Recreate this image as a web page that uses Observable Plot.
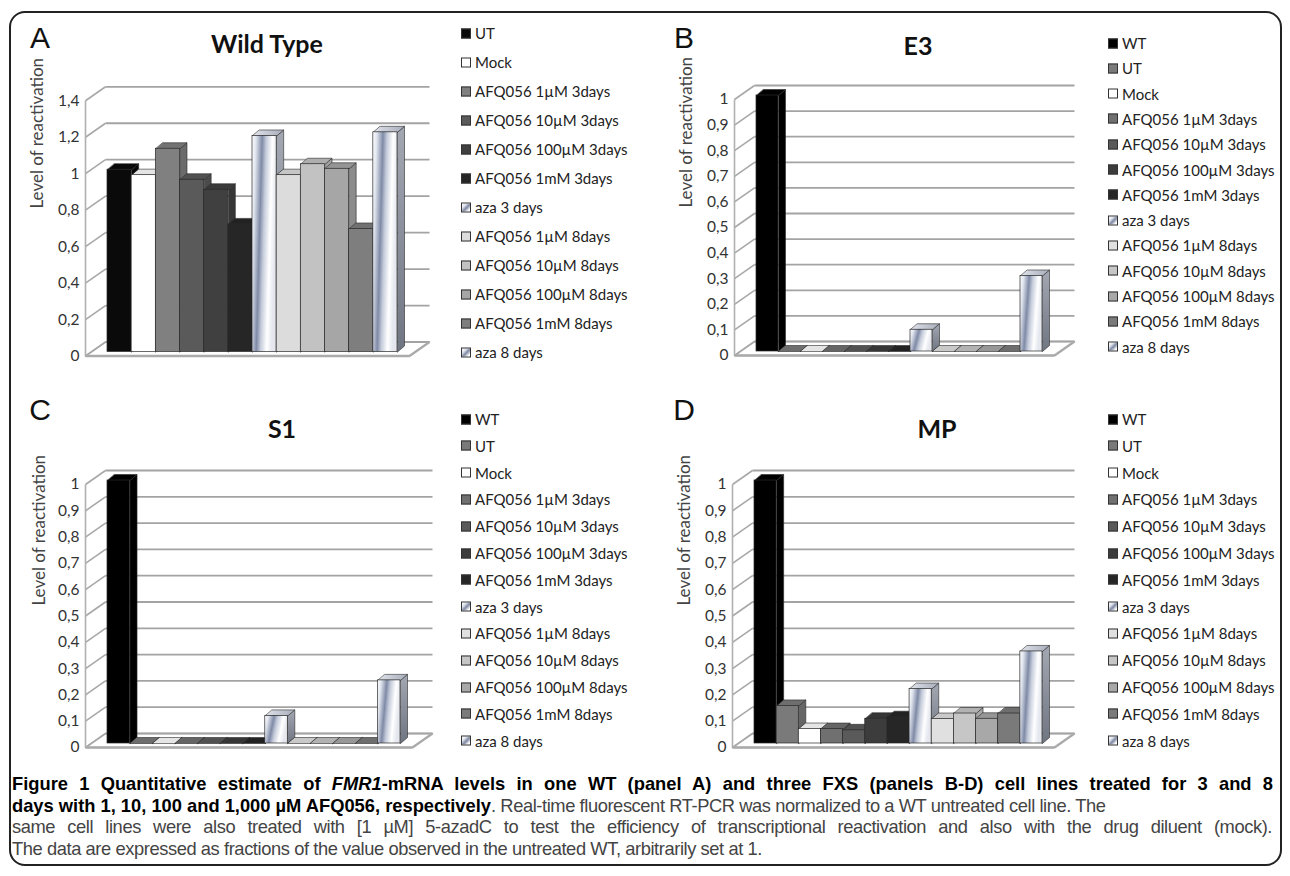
<!DOCTYPE html>
<html><head><meta charset="utf-8">
<script src="https://cdn.jsdelivr.net/npm/d3@7"></script>
<script src="https://cdn.jsdelivr.net/npm/@observablehq/plot@0.6"></script>
<style>
html,body{margin:0;padding:0;background:#fff;}
body{width:1290px;height:876px;position:relative;overflow:hidden;font-family:Lato,"Open Sans",sans-serif;}
#frame{position:absolute;left:9px;top:11px;width:1273px;height:855px;border:2px solid #222;border-radius:16px;box-sizing:border-box;}
.abs{position:absolute;}
.letter{font-family:"Liberation Sans",Arial,sans-serif;font-size:30px;color:#111;line-height:1;transform:translate(-50%,-50%);}
.title{font-family:Lato,sans-serif;font-weight:bold;font-size:25px;color:#111;line-height:1;transform:translate(-50%,-50%);white-space:nowrap;}
.leg{font-family:Lato,sans-serif;font-size:15px;color:#222;white-space:nowrap;transform:translateY(-50%);display:flex;align-items:center;line-height:1;}
.sw{width:10px;height:10px;border:1px solid #333;margin-right:4px;box-sizing:border-box;flex:none;}
.cap{position:absolute;left:12px;white-space:nowrap;font-size:19px;line-height:1;transform-origin:0 50%;font-family:"Liberation Sans",Arial,sans-serif;color:#444;}
.cap b{color:#000;}
.plot{position:absolute;}
</style>
</head>
<body>
<svg width="0" height="0" style="position:absolute">
<defs>
<linearGradient id="azaFront" x1="0" y1="0" x2="1" y2="0.25">
<stop offset="0" stop-color="#ffffff"/>
<stop offset="0.16" stop-color="#e0e5ee"/>
<stop offset="0.4" stop-color="#7f8aa6"/>
<stop offset="0.56" stop-color="#c4cbda"/>
<stop offset="0.8" stop-color="#ffffff"/>
<stop offset="1" stop-color="#e4e7ee"/>
</linearGradient>
<linearGradient id="azaSide" x1="0" y1="0" x2="0" y2="1">
<stop offset="0" stop-color="#a3a8b3"/>
<stop offset="1" stop-color="#6f7581"/>
</linearGradient>
<linearGradient id="azaTop" x1="0" y1="0" x2="1" y2="0">
<stop offset="0" stop-color="#dfe2ea"/>
<stop offset="1" stop-color="#a7adbb"/>
</linearGradient>
</defs>
</svg>
<div id="frame"></div>
<div id="root"></div>
<script>
// ---------- data ----------
const categoriesWildType = ["UT","Mock","AFQ056 1µM 3days","AFQ056 10µM 3days","AFQ056 100µM 3days","AFQ056 1mM 3days","aza 3 days","AFQ056 1µM 8days","AFQ056 10µM 8days","AFQ056 100µM 8days","AFQ056 1mM 8days","aza 8 days"];
const categoriesFXS = ["WT","UT","Mock","AFQ056 1µM 3days","AFQ056 10µM 3days","AFQ056 100µM 3days","AFQ056 1mM 3days","aza 3 days","AFQ056 1µM 8days","AFQ056 10µM 8days","AFQ056 100µM 8days","AFQ056 1mM 8days","aza 8 days"];
const valuesWildType = [1.00, 0.97, 1.115, 0.945, 0.89, 0.70, 1.185, 0.97, 1.03, 1.005, 0.675, 1.205];
const valuesE3 = [1.00, 0, 0, 0, 0, 0, 0, 0.085, 0, 0, 0, 0, 0.295];
const valuesS1 = [1.00, 0, 0, 0, 0, 0, 0, 0.105, 0, 0, 0, 0, 0.24];
const valuesMP = [1.00, 0.143, 0.055, 0.055, 0.05, 0.094, 0.10, 0.207, 0.093, 0.114, 0.094, 0.114, 0.35];
const ticksWildType = [0, 0.2, 0.4, 0.6, 0.8, 1, 1.2, 1.4];
const ticksFXS = [0, 0.1, 0.2, 0.3, 0.4, 0.5, 0.6, 0.7, 0.8, 0.9, 1];
const yLabel = "Level of reactivation";

// ---------- styles ----------
const paletteWildType = ["#0a0a0a","#ffffff","#808080","#5a5a5a","#404040","#262626","aza","#dcdcdc","#c2c2c2","#a6a6a6","#7e7e7e","aza"];
const paletteFXS = ["#000000","#7a7a7a","#ffffff","#707070","#5a5a5a","#3c3c3c","#262626","aza","#e0e0e0","#c6c6c6","#a8a8a8","#7a7a7a","aza"];

const panels = [
  {letter:"A", title:"Wild Type", cats:categoriesWildType, values:valuesWildType, palette:paletteWildType, ticks:ticksWildType, ymax:1.4,
   letterPos:[40,38], titlePos:[267,43], svg:[0,60,450,330], bars:[107,397], base:351.5, unit:182.3, ylabelPos:[37,208], legend:[461,33,29]},
  {letter:"B", title:"E3", cats:categoriesFXS, values:valuesE3, palette:paletteFXS, ticks:ticksFXS, ymax:1,
   letterPos:[684,38], titlePos:[918,45], svg:[645,60,450,330], bars:[756,1042], base:351, unit:256, ylabelPos:[686,207], legend:[1108,43,25.3]},
  {letter:"C", title:"S1", cats:categoriesFXS, values:valuesS1, palette:paletteFXS, ticks:ticksFXS, ymax:1,
   letterPos:[40,410], titlePos:[282,428], svg:[0,440,450,330], bars:[107,400], base:743, unit:263, ylabelPos:[39,605], legend:[461,419,26.8]},
  {letter:"D", title:"MP", cats:categoriesFXS, values:valuesMP, palette:paletteFXS, ticks:ticksFXS, ymax:1,
   letterPos:[684,410], titlePos:[937,428], svg:[645,440,450,330], bars:[754,1042], base:743, unit:263, ylabelPos:[684,605], legend:[1108,419,26.8]}
];

const root = document.getElementById("root");
const fmt = d => String(d).replace(".", ",");
const frontFill = c => c === "aza" ? "url(#azaFront)" : c;
const sideFill = c => c === "aza" ? "url(#azaSide)" : d3.color(c).darker(0.5).formatHex();
const topFill = c => c === "aza" ? "url(#azaTop)" : d3.color(c).darker(0.3).formatHex();
const swatchBg = c => c === "aza" ? "linear-gradient(135deg,#ffffff 0%,#dfe3ec 30%,#7e88a2 55%,#ffffff 85%)" : c;

function addDiv(cls, x, y, html) {
  const d = document.createElement("div");
  d.className = "abs " + cls;
  d.style.left = x + "px"; d.style.top = y + "px";
  d.innerHTML = html;
  root.appendChild(d);
  return d;
}

for (const p of panels) {
  const [sl, st, sw, sh] = p.svg;
  const n = p.cats.length;
  const slot = (p.bars[1] - p.bars[0]) / n;
  const px2x = 1 / slot, px2y = 1 / p.unit;
  const marginLeft = p.bars[0] - sl, marginRight = sw - (p.bars[1] - sl);
  const marginBottom = sh - (p.base - st), marginTop = p.base - p.unit * p.ymax - st;
  // 3D geometry offsets converted to data units
  const FL = -22 * px2x, FR = n + 12 * px2x;
  const BDX = 20 * px2x;
  const FY = -4 * px2y, BY = 10 * px2y;
  const DX = 7 * px2x, DY = 6 * px2y;

  const bars = p.values.map((v, i) => ({i, cat: p.cats[i], v, c: p.palette[i]}));
  const tops = bars.flatMap(b => [[b.i, b.v], [b.i + 1, b.v], [b.i + 1 + DX, b.v + DY], [b.i + DX, b.v + DY]]
    .map(([x, y]) => ({x, y, i: b.i, fill: topFill(b.c)})));
  const sides = bars.flatMap(b => [[b.i + 1, 0], [b.i + 1 + DX, DY], [b.i + 1 + DX, b.v + DY], [b.i + 1, b.v]]
    .map(([x, y]) => ({x, y, i: b.i, fill: sideFill(b.c)})));
  const floor = [[FL, FY], [FR, FY], [FR + BDX, BY], [FL + BDX, BY]].map(([x, y]) => ({x, y}));

  const frameCenter = st + (marginTop + sh - marginBottom) / 2;

  const chart = Plot.plot({
    width: sw, height: sh,
    marginLeft, marginRight, marginTop, marginBottom,
    x: {domain: [0, n], axis: null},
    y: {domain: [0, p.ymax]},
    color: {type: "identity"},
    style: {overflow: "visible", background: "transparent"},
    marks: [
      Plot.line(floor, {x: "x", y: "y", fill: "#ffffff", stroke: "#b4b4b4", strokeWidth: 1.5, curve: "linear-closed"}),
      Plot.link(p.ticks, {x1: () => FL + BDX, x2: () => FR + BDX, y1: t => t + BY, y2: t => t + BY, stroke: "#a3a3a3", strokeWidth: 1.8}),
      Plot.link(p.ticks, {x1: () => FL, y1: t => t + FY, x2: () => FL + BDX, y2: t => t + BY, stroke: "#a8a8a8", strokeWidth: 1.6}),
      Plot.link([p.ymax], {x1: () => FL, x2: () => FL, y1: () => FY, y2: t => t + FY, stroke: "#b0b0b0", strokeWidth: 1.6}),
      Plot.link([0], {x1: () => FL, x2: () => FR, y1: () => FY, y2: () => FY, stroke: "#aaaaaa", strokeWidth: 2.6}),
      Plot.link([0], {x1: () => FR, x2: () => FR + BDX, y1: () => FY, y2: () => BY, stroke: "#aaaaaa", strokeWidth: 2.2}),
      Plot.line(sides, {x: "x", y: "y", z: "i", fill: "fill", stroke: "#2a2a2a", strokeWidth: 0.6, curve: "linear-closed"}),
      Plot.line(tops, {x: "x", y: "y", z: "i", fill: "fill", stroke: "#2a2a2a", strokeWidth: 0.6, curve: "linear-closed"}),
      Plot.rect(bars, {x1: "i", x2: d => d.i + 1, y1: () => 0, y2: "v", fill: d => frontFill(d.c), stroke: "#2a2a2a", strokeWidth: 0.7, title: d => `${d.cat}: ${fmt(d.v)}`}),
      Plot.axisY(p.ticks, {tickSize: 0, tickPadding: 28, dy: 4, tickFormat: fmt, fontSize: 15.5, fill: "#333", label: null, fontFamily: "Lato, sans-serif"}),
      Plot.text([yLabel], {frameAnchor: "left", text: d => d, rotate: -90, dx: p.ylabelPos[0] - p.bars[0], dy: p.ylabelPos[1] - frameCenter, fontSize: 17, fill: "#444", fontFamily: "Lato, sans-serif"})
    ]
  });
  chart.classList.add("plot");
  chart.style.left = sl + "px"; chart.style.top = st + "px";
  root.appendChild(chart);

  addDiv("letter", p.letterPos[0], p.letterPos[1], p.letter);
  addDiv("title", p.titlePos[0], p.titlePos[1], p.title);
  const [lx, ly, lstep] = p.legend;
  p.cats.forEach((c, i) => {
    addDiv("leg", lx, ly + i * lstep, `<span class="sw" style="background:${swatchBg(p.palette[i])}"></span><span>${c}</span>`);
  });
}

// ---------- caption ----------
const captionLines = [
  {y: 783, justify: 1261, html: "<b>Figure 1 Quantitative estimate of <i>FMR1</i>-mRNA levels in one WT (panel A) and three FXS (panels B-D) cell lines treated for 3 and 8</b>"},
  {y: 804.5, justify: 0, html: "<b>days with 1, 10, 100 and 1,000 µM AFQ056, respectively</b><span class='r'>. Real-time fluorescent RT-PCR was normalized to a WT untreated cell line. The</span>"},
  {y: 826, justify: 1260, html: "<span class='r'>same cell lines were also treated with [1 µM] 5-azadC to test the efficiency of transcriptional reactivation and also with the drug diluent (mock).</span>"},
  {y: 848, justify: 0, html: "<span class='r'>The data are expressed as fractions of the value observed in the untreated WT, arbitrarily set at 1.</span>"}
];
const capEls = captionLines.map(l => {
  const d = document.createElement("div");
  d.className = "cap";
  d.style.top = l.y + "px";
  d.innerHTML = l.html;
  root.appendChild(d);
  return d;
});
// common horizontal scale: the bold run of line 2 ends where it does in the figure
const s = 479 / capEls[1].querySelector("b").getBoundingClientRect().width;
// regular text spacing so that the last (unjustified) line has its width
const w4 = capEls[3].getBoundingClientRect().width;
const ls = (750 / s - w4) / capEls[3].textContent.length;
document.querySelectorAll(".cap .r").forEach(e => e.style.letterSpacing = ls + "px");
// justified lines: stretch word spacing
captionLines.forEach((l, k) => {
  if (!l.justify) return;
  const d = capEls[k];
  const w = d.getBoundingClientRect().width;
  const spaces = (d.textContent.match(/ /g) || []).length;
  d.style.wordSpacing = ((l.justify / s - w) / spaces) + "px";
});
capEls.forEach(d => d.style.transform = `translateY(-50%) scaleX(${s})`);
</script>
</body></html>
